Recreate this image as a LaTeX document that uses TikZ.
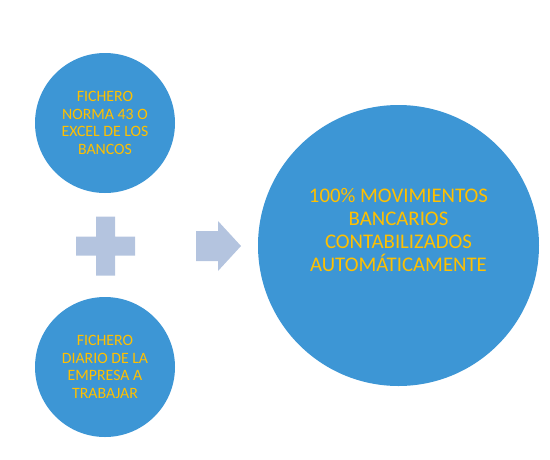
\documentclass[tikz,border=0pt]{standalone}
\usepackage{fontspec}
\setmainfont{Carlito}
\usepackage{tikz}
\usetikzlibrary{positioning}
\definecolor{circ}{HTML}{3D96D5}
\definecolor{gold}{HTML}{FFC000}
\definecolor{sym}{HTML}{B4C4DF}
\tikzset{
  src/.style={circle, fill=circ, minimum size=140pt, inner sep=0pt, text=gold,
              align=center, font=\fontsize{15.8}{17.7}\selectfont},
  res/.style={circle, fill=circ, minimum size=281pt, inner sep=0pt},
  restxt/.style={text=gold, align=center, font=\fontsize{20.8}{23}\selectfont},
  op/.style={fill=sym},
}
\begin{document}
\begin{tikzpicture}[x=1pt, y=-1pt]
  \useasboundingbox (0,0) rectangle (550,459);
  \node[src] (bancos) at (105,123) {FICHERO\\ NORMA 43 O\\ EXCEL DE LOS\\ BANCOS};
  \node[src] (diario) at (105,367) {FICHERO\\ DIARIO DE LA\\ EMPRESA A\\ TRABAJAR};
  \node[res] (total) at (398.5,245.5) {};
  \node[restxt] (totaltxt) at ([yshift=16pt]total.center)
    {100\% MOVIMIENTOS\\ BANCARIOS\\ CONTABILIZADOS\\ AUTOMÁTICAMENTE};
  % plus
  \coordinate (mas) at (105.5,246);
  \begin{scope}[shift={(mas)}]
    \fill[op] (-29.5,-9.5) rectangle (29.5,9.5) (-9.5,-29.5) rectangle (9.5,29.5);
  \end{scope}
  % arrow
  \fill[op] (196,231) -- (218,231) -- (218,221) -- (241,246) -- (218,271)
    -- (218,261) -- (196,261) -- cycle;
\end{tikzpicture}
\end{document}
